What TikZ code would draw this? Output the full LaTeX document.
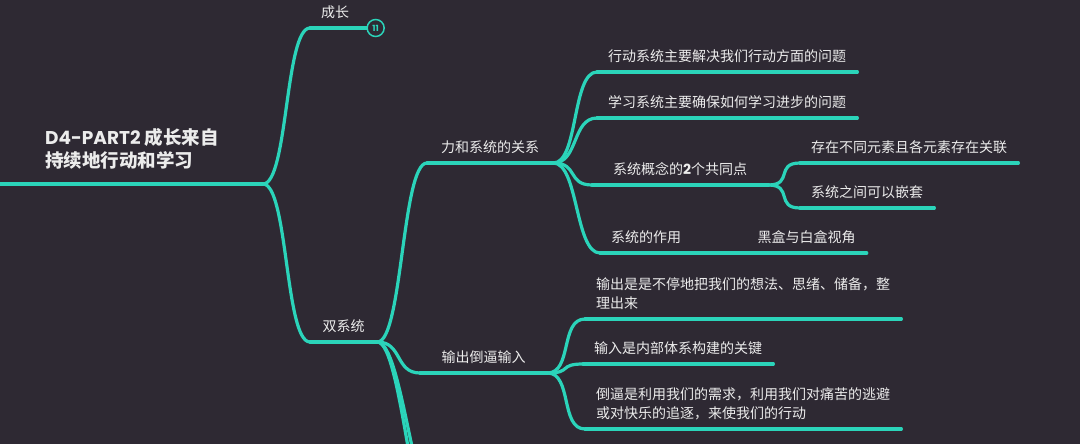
\documentclass[tikz,border=0pt]{standalone}
\usepackage{fontspec}
\setmainfont{Noto Sans CJK SC}
\newfontfamily\latinfont{Poppins}
\usetikzlibrary{positioning}

\definecolor{bgdark}{RGB}{46,41,51}
\definecolor{mapline}{RGB}{43,212,186}
\definecolor{maptext}{RGB}{236,236,236}

\begin{document}
\begin{tikzpicture}[x=1pt, y=-1pt,
        topic/.style={anchor=south west, inner xsep=11pt, inner ysep=9pt, text=maptext, align=left, font=\fontsize{14}{19}\selectfont},
        link/.style={draw=mapline, line width=3.2pt, line cap=round},
        branch/.style={out=0, in=180, distance=25pt},
        count/.style={circle, draw=mapline, fill=bgdark, line width=1.5pt, minimum size=17pt, inner sep=0pt, text=mapline, font=\fontsize{8.5}{8.5}\selectfont\latinfont\bfseries}
    ]
        \useasboundingbox (0,0) rectangle (1080,444);
        \fill[bgdark] (0,0) rectangle (1080,444);
        \clip (0,0) rectangle (1080,444);

        % root
        \coordinate (lft) at (0,184);
        \coordinate (rj) at (263,184);
        \node[anchor=south west, inner xsep=0pt, inner ysep=15pt, text=maptext, align=left, font=\fontsize{18.5}{23}\selectfont\bfseries] (root) at (45,184) {{\latinfont D4-PART2} 成长来自\\持续地行动和学习};

        % first level
        \node[topic] (grow) at (310,28) {成长};
        \node[count, right=6pt of grow.south east] (cnt) {11};
        \node[topic, minimum width=67pt] (dual) at (310,342) {双系统};

        % second level
        \node[topic, minimum width=126pt] (relat) at (427,163) {力和系统的关系};
        \node[topic, minimum width=127pt] (outin) at (420,373) {输出倒逼输入};
        \coordinate (hid1) at (440,520);
        \coordinate (hid2) at (440,560);

        % children of relat
        \node[topic] (act) at (597,72) {行动系统主要解决我们行动方面的问题};
        \node[topic] (learn) at (597,118) {学习系统主要确保如何学习进步的问题};
        \node[topic, minimum width=176pt] (concept) at (592,185) {系统概念的{\latinfont\bfseries 2}个共同点};
        \node[topic] (role) at (600,253) {系统的作用};
        \node[topic, right=54pt of role.south east, anchor=south west] (box) {黑盒与白盒视角};
        \node[topic] (elem) at (800,163) {存在不同元素且各元素存在关联};
        \node[topic] (nest) at (800,208) {系统之间可以嵌套};

        % children of outin
        \node[topic] (out) at (585,319) {输出是是不停地把我们的想法、思绪、储备，整\\理出来};
        \node[topic] (inp) at (583,364) {输入是内部体系构建的关键};
        \node[topic] (push) at (585,429) {倒逼是利用我们的需求，利用我们对痛苦的逃避\\或对快乐的追逐，来使我们的行动};

        % underlines
        \foreach \n in {dual,relat,outin,act,learn,concept,role,box,elem,nest,out,inp,push}
            \draw[link] (\n.south west) -- (\n.south east);
        \draw[link] (grow.south west) -- (cnt.west);
        \draw[link] (role.south east) -- (box.south west);
        \draw[link] (lft) -- (rj);

        % branches
        \draw[link] (rj) to[branch] (grow.south west);
        \draw[link] (rj) to[branch] (dual.south west);
        \foreach \n in {relat,outin,hid1,hid2}
            \draw[link] (dual.south east) to[branch] (\n.south west);
        \foreach \n in {act,learn,concept,role}
            \draw[link] (relat.south east) to[branch] (\n.south west);
        \foreach \n in {elem,nest}
            \draw[link] (concept.south east) to[branch] (\n.south west);
        \foreach \n in {out,inp,push}
            \draw[link] (outin.south east) to[branch] (\n.south west);
    \end{tikzpicture}
\end{document}
